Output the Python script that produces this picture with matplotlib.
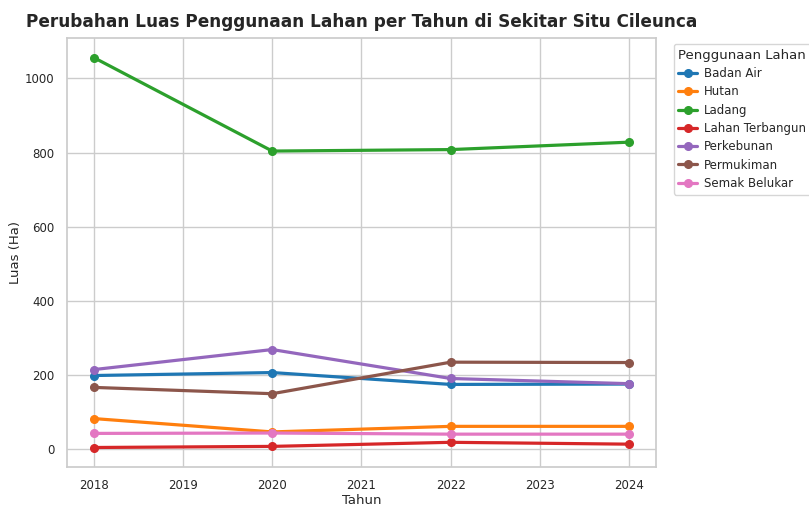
import matplotlib
matplotlib.use("Agg")
import matplotlib.pyplot as plt
import seaborn as sns

# data
years = [2018, 2020, 2022, 2024]
badan_air = [199, 207, 175, 176]
hutan = [83, 47, 62, 62]
ladang = [1056, 804, 808, 828]
lahan_terbangun = [5, 8, 19, 14]
perkebunan = [215, 269, 191, 177]
permukiman = [167, 150, 235, 234]
semak_belukar = [43, 44, 41, 41]

series = [
    ("Badan Air", badan_air),
    ("Hutan", hutan),
    ("Ladang", ladang),
    ("Lahan Terbangun", lahan_terbangun),
    ("Perkebunan", perkebunan),
    ("Permukiman", permukiman),
    ("Semak Belukar", semak_belukar),
]

sns.set_theme(style="whitegrid")
colors = sns.color_palette("tab10")[:7]

fig = plt.figure(figsize=(8.09, 5.07), dpi=100)
ax = fig.add_axes([0.0828, 0.0789, 0.728, 0.846])

for (name, vals), c in zip(series, colors):
    ax.plot(years, vals, marker="o", color=c, linewidth=2.3, markersize=5.5, label=name)

ax.set_xticks(range(2018, 2025))
ax.tick_params(labelsize=8.5, pad=3)
ax.set_xlabel("Tahun", fontsize=9.5, labelpad=1)
ax.set_ylabel("Luas (Ha)", fontsize=9.5, labelpad=2)
ax.set_title("Perubahan Luas Penggunaan Lahan per Tahun di Sekitar Situ Cileunca",
             fontsize=12.2, fontweight="bold", pad=8)
ax.legend(title="Penggunaan Lahan", loc="upper left", bbox_to_anchor=(1.02, 1.0),
          fontsize=8.5, title_fontsize=9.5, handlelength=1.6, labelspacing=0.45,
          handletextpad=0.6)

fig.savefig("out.png", dpi=100)
